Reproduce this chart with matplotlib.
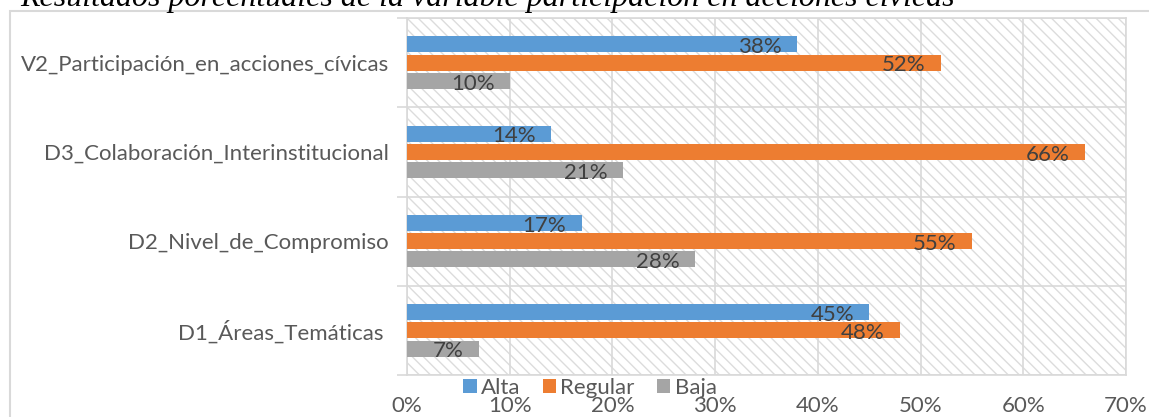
import matplotlib
matplotlib.use("Agg")
import matplotlib.pyplot as plt
from matplotlib.patches import Rectangle
import numpy as np

# data (percent), categories listed top to bottom
categories = ["V2_Participación_en_acciones_cívicas",
              "D3_Colaboración_Interinstitucional",
              "D2_Nivel_de_Compromiso",
              "D1_Áreas_Temáticas "]
series = ["Alta", "Regular", "Baja"]
alta = [38, 14, 17, 45]
regular = [52, 66, 55, 48]
baja = [10, 21, 28, 7]
xticks = [0, 10, 20, 30, 40, 50, 60, 70]
title = "Resultados porcentuales de la variable participación en acciones cívicas"

colors = ["#5B9BD5", "#ED7D31", "#A5A5A5"]
grid_c = "#D9D9D9"
txt_c = "#595959"
font = "Lato"
fs = 16

plt.rcParams["hatch.linewidth"] = 1.0

W, H = 1149, 417
fig = plt.figure(figsize=(W / 100, H / 100), dpi=100)
# axes in pixel coordinates of the reference
x0, x1, ytop, ybot = 407, 1126, 18, 375
ax = fig.add_axes([x0 / W, 1 - ybot / H, (x1 - x0) / W, (ybot - ytop) / H])

n = len(categories)
ypos = np.arange(n)            # 0 = top
bh = 0.18
step = 0.205
vals = [alta, regular, baja]
for i, (name, v, c) in enumerate(zip(series, vals, colors)):
    yy = ypos + (i - 1) * step
    bars = ax.barh(yy, v, height=bh, color=c, label=name, zorder=3)
    for b, val in zip(bars, v):
        ax.annotate(f"{val}%", (b.get_width(), b.get_y() + b.get_height() / 2),
                    xytext=(-11, -2), textcoords="offset points",
                    ha="right", va="center", fontsize=fs, color="#404040",
                    family=font, zorder=4)

ax.set_xlim(0, 70)
ax.set_ylim(n - 0.5, -0.5)

# hatched plot background
ax.add_patch(Rectangle((0, 0), 1, 1, transform=ax.transAxes, facecolor="white",
                       edgecolor="#DCDCDC", hatch="\\\\\\", lw=0, zorder=0))
for xv in xticks:
    ax.axvline(xv, color=grid_c, lw=1.2, zorder=1)
for b in np.arange(n + 1) - 0.5:
    ax.axhline(b, color=grid_c, lw=1.2, zorder=1)

for s in ax.spines.values():
    s.set_color(grid_c)
    s.set_linewidth(1.2)

ax.set_xticks(xticks)
ax.set_xticklabels([f"{t}%" for t in xticks])
ax.tick_params(axis="x", length=0, pad=15, labelsize=fs, labelcolor=txt_c)
ax.set_yticks(ypos)
ax.set_yticklabels(categories)
ax.set_yticks(np.arange(n + 1) - 0.5, minor=True)
ax.tick_params(axis="y", which="major", length=0, pad=13, labelsize=fs, labelcolor=txt_c)
ax.tick_params(axis="y", which="minor", length=7, width=1.2, color=grid_c)
for lab in ax.get_xticklabels() + ax.get_yticklabels():
    lab.set_family(font)

leg = fig.legend(loc="center", bbox_to_anchor=(590 / W, 1 - 388 / H), ncol=3, frameon=False,
                 prop={"family": font, "size": fs}, handlelength=0.6, handleheight=0.6,
                 handletextpad=0.2, columnspacing=1.0, labelcolor=txt_c)

# outer chart frame
fig.add_artist(Rectangle((10 / W, -0.05), 1.2, 1 - 11 / H + 0.05, transform=fig.transFigure,
                         facecolor="none", edgecolor=grid_c, lw=1.5))

fig.text(20 / W, 1 - 6 / H, title, family="Liberation Serif", style="italic",
         fontsize=23, va="baseline", ha="left", color="black")

fig.savefig("out.png", dpi=100)
